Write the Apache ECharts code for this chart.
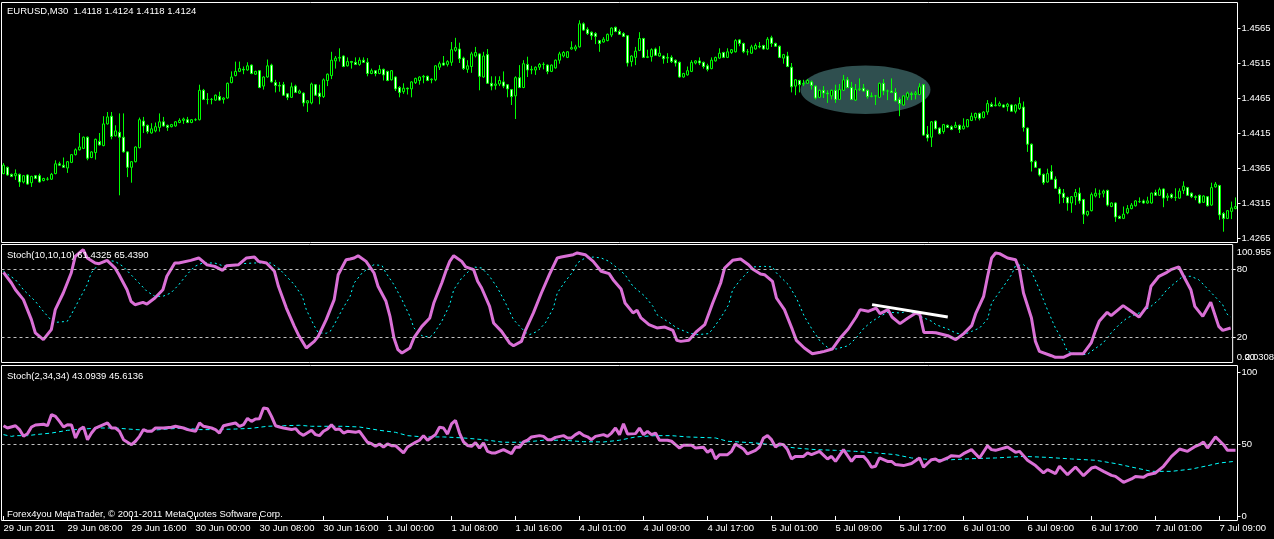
<!DOCTYPE html>
<html><head><meta charset="utf-8">
<script src="https://cdn.jsdelivr.net/npm/echarts@6/dist/echarts.min.js"></script>
<style>html,body{margin:0;padding:0;background:#000;}#c{width:1274px;height:539px;}</style>
</head><body><div id="c"></div>
<script>
// ---- price bars (EURUSD M30) ----
const openP = [
1.4357,1.4366,1.4356,1.4354,1.4356,1.4345,1.4355,1.4344,1.4354,1.4354,
1.4347,1.4349,1.4349,1.4357,1.4371,1.4369,1.4365,1.4373,1.4384,1.4391,
1.4393,1.4409,1.4380,1.4387,1.4403,1.4397,1.4428,1.4439,1.4411,1.4416,
1.4409,1.4388,1.4366,1.4374,1.4394,1.4432,1.4426,1.4415,1.4418,1.4423,
1.4431,1.4426,1.4424,1.4425,1.4430,1.4433,1.4434,1.4430,1.4434,1.4434,
1.4476,1.4463,1.4463,1.4462,1.4467,1.4463,1.4465,1.4487,1.4497,1.4503,
1.4506,1.4505,1.4512,1.4499,1.4504,1.4482,1.4495,1.4512,1.4487,1.4483,
1.4484,1.4471,1.4466,1.4482,1.4472,1.4472,1.4458,1.4458,1.4484,1.4472,
1.4467,1.4490,1.4497,1.4518,1.4522,1.4525,1.4511,1.4517,1.4516,1.4513,
1.4519,1.4516,1.4500,1.4504,1.4500,1.4506,1.4503,1.4491,1.4495,1.4480,
1.4474,1.4479,1.4478,1.4487,1.4490,1.4495,1.4496,1.4491,1.4491,1.4509,
1.4515,1.4513,1.4516,1.4533,1.4535,1.4522,1.4506,1.4510,1.4525,1.4528,
1.4495,1.4527,1.4486,1.4483,1.4485,1.4488,1.4484,1.4477,1.4468,1.4494,
1.4480,1.4513,1.4505,1.4505,1.4509,1.4513,1.4512,1.4503,1.4508,1.4519,
1.4525,1.4523,1.4535,1.4535,1.4538,1.4571,1.4563,1.4559,1.4557,1.4547,
1.4545,1.4547,1.4555,1.4566,1.4560,1.4557,1.4554,1.4517,1.4523,1.4533,
1.4550,1.4523,1.4524,1.4535,1.4525,1.4525,1.4522,1.4523,1.4519,1.4516,
1.4495,1.4498,1.4503,1.4515,1.4518,1.4516,1.4511,1.4507,1.4518,1.4522,
1.4530,1.4523,1.4530,1.4531,1.4548,1.4543,1.4531,1.4529,1.4535,1.4539,
1.4540,1.4535,1.4551,1.4543,1.4539,1.4522,1.4525,1.4509,1.4482,1.4490,
1.4485,1.4486,1.4488,1.4482,1.4466,1.4476,1.4472,1.4468,1.4476,1.4463,
1.4476,1.4491,1.4480,1.4462,1.4477,1.4479,1.4476,1.4467,1.4468,1.4466,
1.4486,1.4475,1.4475,1.4473,1.4463,1.4455,1.4466,1.4471,1.4470,1.4470,
1.4484,1.4413,1.4409,1.4432,1.4422,1.4417,1.4426,1.4424,1.4423,1.4426,
1.4421,1.4424,1.4433,1.4437,1.4443,1.4437,1.4445,1.4456,1.4454,1.4454,
1.4455,1.4453,1.4455,1.4446,1.4450,1.4452,1.4422,1.4399,1.4374,1.4364,
1.4356,1.4345,1.4360,1.4349,1.4335,1.4329,1.4323,1.4315,1.4324,1.4329,
1.4320,1.4298,1.4304,1.4325,1.4328,1.4329,1.4333,1.4310,1.4315,1.4296,
1.4293,1.4301,1.4307,1.4311,1.4317,1.4318,1.4315,1.4315,1.4330,1.4326,
1.4335,1.4323,1.4327,1.4323,1.4322,1.4333,1.4337,1.4329,1.4324,1.4326,
1.4316,1.4324,1.4312,1.4338,1.4340,1.4300,1.4293,1.4303,1.4307];
const highP = [
1.4372,1.4367,1.4357,1.4363,1.4357,1.4355,1.4356,1.4354,1.4355,1.4357,
1.4351,1.4352,1.4358,1.4376,1.4374,1.4380,1.4375,1.4385,1.4393,1.4415,
1.4410,1.4410,1.4389,1.4407,1.4415,1.4439,1.4445,1.4445,1.4426,1.4443,
1.4443,1.4389,1.4375,1.4396,1.4437,1.4438,1.4427,1.4429,1.4430,1.4443,
1.4438,1.4427,1.4428,1.4432,1.4436,1.4437,1.4438,1.4435,1.4436,1.4484,
1.4478,1.4472,1.4465,1.4470,1.4474,1.4466,1.4487,1.4503,1.4517,1.4517,
1.4510,1.4516,1.4513,1.4504,1.4505,1.4496,1.4520,1.4514,1.4491,1.4488,
1.4488,1.4472,1.4487,1.4484,1.4477,1.4473,1.4462,1.4487,1.4485,1.4484,
1.4493,1.4500,1.4531,1.4525,1.4536,1.4526,1.4523,1.4518,1.4523,1.4523,
1.4523,1.4522,1.4507,1.4505,1.4512,1.4507,1.4504,1.4505,1.4496,1.4482,
1.4486,1.4480,1.4489,1.4494,1.4496,1.4498,1.4497,1.4493,1.4512,1.4517,
1.4525,1.4519,1.4545,1.4551,1.4544,1.4524,1.4519,1.4531,1.4538,1.4529,
1.4531,1.4535,1.4496,1.4496,1.4496,1.4503,1.4485,1.4478,1.4496,1.4512,
1.4519,1.4524,1.4511,1.4510,1.4515,1.4516,1.4513,1.4513,1.4520,1.4531,
1.4532,1.4532,1.4546,1.4541,1.4576,1.4573,1.4566,1.4560,1.4559,1.4548,
1.4552,1.4557,1.4566,1.4567,1.4563,1.4559,1.4555,1.4526,1.4538,1.4559,
1.4551,1.4534,1.4536,1.4537,1.4539,1.4526,1.4529,1.4526,1.4520,1.4517,
1.4501,1.4510,1.4519,1.4519,1.4523,1.4517,1.4514,1.4523,1.4524,1.4536,
1.4531,1.4536,1.4535,1.4549,1.4549,1.4544,1.4535,1.4541,1.4543,1.4545,
1.4541,1.4552,1.4554,1.4544,1.4540,1.4528,1.4531,1.4515,1.4492,1.4491,
1.4491,1.4492,1.4490,1.4483,1.4477,1.4482,1.4476,1.4477,1.4484,1.4485,
1.4498,1.4495,1.4488,1.4485,1.4493,1.4485,1.4477,1.4473,1.4469,1.4487,
1.4492,1.4477,1.4493,1.4479,1.4466,1.4469,1.4474,1.4474,1.4475,1.4486,
1.4485,1.4425,1.4432,1.4433,1.4423,1.4428,1.4427,1.4426,1.4431,1.4427,
1.4436,1.4435,1.4444,1.4444,1.4444,1.4446,1.4462,1.4459,1.4466,1.4460,
1.4456,1.4458,1.4456,1.4456,1.4466,1.4460,1.4423,1.4400,1.4376,1.4365,
1.4357,1.4364,1.4369,1.4353,1.4338,1.4335,1.4324,1.4325,1.4335,1.4337,
1.4321,1.4304,1.4330,1.4336,1.4334,1.4334,1.4334,1.4316,1.4316,1.4297,
1.4310,1.4312,1.4315,1.4319,1.4323,1.4320,1.4324,1.4330,1.4334,1.4337,
1.4336,1.4329,1.4329,1.4336,1.4336,1.4346,1.4338,1.4330,1.4326,1.4327,
1.4326,1.4325,1.4344,1.4345,1.4341,1.4302,1.4305,1.4317,1.4323];
const lowP = [
1.4356,1.4354,1.4352,1.4348,1.4338,1.4343,1.4341,1.4338,1.4349,1.4344,
1.4346,1.4347,1.4348,1.4356,1.4368,1.4365,1.4358,1.4372,1.4383,1.4390,
1.4392,1.4376,1.4379,1.4377,1.4397,1.4396,1.4427,1.4406,1.4410,1.4326,
1.4387,1.4352,1.4344,1.4373,1.4393,1.4415,1.4414,1.4414,1.4416,1.4417,
1.4424,1.4418,1.4423,1.4424,1.4429,1.4428,1.4429,1.4429,1.4432,1.4433,
1.4462,1.4456,1.4456,1.4461,1.4461,1.4457,1.4464,1.4486,1.4496,1.4502,
1.4499,1.4504,1.4499,1.4498,1.4479,1.4477,1.4494,1.4487,1.4473,1.4474,
1.4468,1.4462,1.4465,1.4472,1.4471,1.4453,1.4445,1.4456,1.4468,1.4456,
1.4465,1.4482,1.4492,1.4507,1.4517,1.4509,1.4510,1.4507,1.4512,1.4511,
1.4515,1.4496,1.4499,1.4496,1.4499,1.4490,1.4489,1.4490,1.4475,1.4466,
1.4471,1.4470,1.4466,1.4485,1.4484,1.4486,1.4489,1.4486,1.4489,1.4505,
1.4511,1.4510,1.4511,1.4531,1.4515,1.4505,1.4501,1.4501,1.4523,1.4476,
1.4494,1.4485,1.4476,1.4477,1.4482,1.4479,1.4466,1.4455,1.4435,1.4479,
1.4479,1.4495,1.4499,1.4498,1.4505,1.4506,1.4499,1.4502,1.4507,1.4514,
1.4523,1.4522,1.4534,1.4532,1.4537,1.4561,1.4555,1.4548,1.4542,1.4531,
1.4544,1.4546,1.4552,1.4559,1.4555,1.4552,1.4510,1.4510,1.4512,1.4532,
1.4522,1.4522,1.4517,1.4525,1.4524,1.4514,1.4515,1.4515,1.4510,1.4494,
1.4494,1.4497,1.4502,1.4513,1.4512,1.4507,1.4503,1.4506,1.4517,1.4521,
1.4522,1.4522,1.4528,1.4530,1.4539,1.4529,1.4526,1.4528,1.4534,1.4536,
1.4534,1.4534,1.4538,1.4538,1.4522,1.4514,1.4509,1.4473,1.4469,1.4473,
1.4482,1.4485,1.4477,1.4463,1.4465,1.4465,1.4458,1.4463,1.4458,1.4462,
1.4475,1.4479,1.4462,1.4461,1.4475,1.4474,1.4464,1.4466,1.4455,1.4465,
1.4469,1.4462,1.4472,1.4460,1.4439,1.4454,1.4462,1.4462,1.4463,1.4469,
1.4411,1.4403,1.4395,1.4420,1.4413,1.4414,1.4422,1.4419,1.4422,1.4415,
1.4420,1.4423,1.4432,1.4433,1.4433,1.4436,1.4441,1.4452,1.4453,1.4453,
1.4451,1.4446,1.4445,1.4443,1.4448,1.4417,1.4388,1.4360,1.4365,1.4353,
1.4341,1.4344,1.4348,1.4335,1.4314,1.4315,1.4304,1.4301,1.4312,1.4314,
1.4285,1.4296,1.4303,1.4323,1.4322,1.4323,1.4310,1.4309,1.4288,1.4292,
1.4292,1.4299,1.4306,1.4310,1.4315,1.4314,1.4314,1.4314,1.4325,1.4325,
1.4309,1.4318,1.4321,1.4318,1.4321,1.4328,1.4325,1.4322,1.4319,1.4314,
1.4315,1.4310,1.4311,1.4337,1.4291,1.4274,1.4292,1.4292,1.4306];
const closeP = [
1.4369,1.4355,1.4353,1.4357,1.4345,1.4354,1.4342,1.4353,1.4350,1.4345,
1.4350,1.4349,1.4356,1.4371,1.4369,1.4366,1.4374,1.4384,1.4391,1.4395,
1.4409,1.4379,1.4388,1.4406,1.4398,1.4428,1.4438,1.4410,1.4418,1.4409,
1.4388,1.4366,1.4374,1.4395,1.4434,1.4425,1.4417,1.4421,1.4424,1.4431,
1.4425,1.4423,1.4427,1.4431,1.4433,1.4435,1.4430,1.4434,1.4434,1.4476,
1.4463,1.4463,1.4463,1.4469,1.4462,1.4465,1.4486,1.4495,1.4503,1.4507,
1.4505,1.4511,1.4500,1.4503,1.4480,1.4495,1.4511,1.4488,1.4483,1.4482,
1.4469,1.4466,1.4481,1.4473,1.4475,1.4458,1.4461,1.4485,1.4469,1.4467,
1.4491,1.4499,1.4519,1.4522,1.4523,1.4510,1.4517,1.4516,1.4513,1.4519,
1.4516,1.4500,1.4504,1.4500,1.4506,1.4498,1.4490,1.4504,1.4478,1.4473,
1.4479,1.4478,1.4488,1.4493,1.4495,1.4496,1.4490,1.4492,1.4511,1.4514,
1.4512,1.4517,1.4534,1.4537,1.4521,1.4507,1.4511,1.4528,1.4530,1.4496,
1.4525,1.4486,1.4482,1.4485,1.4490,1.4482,1.4478,1.4467,1.4494,1.4480,
1.4514,1.4505,1.4506,1.4509,1.4513,1.4513,1.4503,1.4512,1.4519,1.4528,
1.4530,1.4531,1.4537,1.4538,1.4571,1.4562,1.4557,1.4554,1.4553,1.4543,
1.4549,1.4556,1.4565,1.4560,1.4556,1.4553,1.4515,1.4525,1.4532,1.4550,
1.4523,1.4524,1.4534,1.4526,1.4529,1.4521,1.4523,1.4517,1.4515,1.4495,
1.4500,1.4504,1.4516,1.4518,1.4515,1.4510,1.4506,1.4519,1.4523,1.4529,
1.4523,1.4531,1.4534,1.4547,1.4543,1.4531,1.4531,1.4538,1.4540,1.4538,
1.4535,1.4549,1.4543,1.4539,1.4523,1.4527,1.4510,1.4481,1.4491,1.4484,
1.4486,1.4490,1.4483,1.4465,1.4476,1.4472,1.4471,1.4476,1.4463,1.4477,
1.4491,1.4480,1.4463,1.4477,1.4478,1.4475,1.4467,1.4468,1.4468,1.4486,
1.4475,1.4475,1.4473,1.4461,1.4457,1.4468,1.4472,1.4470,1.4472,1.4481,
1.4412,1.4408,1.4431,1.4421,1.4414,1.4427,1.4423,1.4420,1.4426,1.4420,
1.4425,1.4434,1.4439,1.4443,1.4436,1.4445,1.4457,1.4453,1.4455,1.4457,
1.4452,1.4456,1.4446,1.4455,1.4457,1.4423,1.4399,1.4374,1.4366,1.4355,
1.4344,1.4357,1.4349,1.4336,1.4328,1.4323,1.4315,1.4324,1.4330,1.4318,
1.4299,1.4303,1.4327,1.4329,1.4328,1.4332,1.4312,1.4315,1.4295,1.4293,
1.4299,1.4307,1.4312,1.4318,1.4317,1.4315,1.4318,1.4329,1.4326,1.4334,
1.4322,1.4325,1.4323,1.4323,1.4332,1.4339,1.4326,1.4324,1.4323,1.4315,
1.4325,1.4311,1.4337,1.4342,1.4298,1.4293,1.4304,1.4308,1.4310];

// ---- time axis ticks (every 16 bars) ----
const tickIndex = [0,16,32,48,64,80,96,112,128,144,160,176,192,208,224,240,256,272,288,304];
const tickLabels = ['29 Jun 2011','29 Jun 08:00','29 Jun 16:00','30 Jun 00:00','30 Jun 08:00','30 Jun 16:00',
  '1 Jul 00:00','1 Jul 08:00','1 Jul 16:00','4 Jul 01:00','4 Jul 09:00','4 Jul 17:00','5 Jul 01:00',
  '5 Jul 09:00','5 Jul 17:00','6 Jul 01:00','6 Jul 09:00','6 Jul 17:00','7 Jul 01:00','7 Jul 09:00'];
const priceTicks = [1.4265,1.4315,1.4365,1.4415,1.4465,1.4515,1.4565];

// ---- Stoch(10,10,10): [bar, value] ----
const stoch1Main = [[0,77.1],[2,67.7],[3,61.8],[5,53.1],[7,35.5],[8,23.8],[10,17.9],[12,26.7],[13,44.3],[15,58.9],
[17,76.5],[18,91.1],[20,97.0],[21,89.7],[23,85.3],[24,84.7],[26,87.6],[28,80.9],[29,75.0],[31,61.8],[32,51.6],[33,48.6],
[35,50.7],[36,49.2],[38,54.5],[40,61.8],[41,73.6],[43,85.3],[44,85.3],[47,87.6],[49,89.7],[51,83.8],[53,82.3],[55,78.8],
[56,82.9],[59,83.8],[61,89.7],[63,90.5],[64,86.7],[66,85.3],[68,78.0],[69,64.8],[71,45.7],[73,29.6],[74,22.3],[76,10.6],
[78,16.4],[79,20.8],[81,35.5],[83,53.1],[84,75.0],[86,88.2],[87,88.8],[88,89.7],[89,91.7],[91,86.7],[93,76.5],[94,64.8],
[96,51.6],[97,38.4],[98,19.4],[99,9.1],[100,6.2],[102,10.6],[103,19.4],[105,29.6],[107,37.0],[108,50.1],[110,67.7],
[111,77.9],[112,86.7],[113,91.7],[115,86.7],[116,81.8],[118,79.4],[119,69.2],[120,63.3],[122,47.2],[123,32.6],[125,25.2],
[127,15.0],[128,12.6],[130,16.4],[131,26.1],[133,41.4],[135,58.9],[137,75.0],[139,89.7],[140,90.5],[143,92.6],[144,94.1],
[146,92.6],[148,86.7],[150,78.0],[152,75.9],[153,70.6],[155,62.5],[156,50.1],[158,41.4],[159,43.7],[160,37.0],[162,31.1],
[164,28.2],[166,29.0],[168,26.1],[169,17.3],[170,16.4],[172,17.3],[174,25.2],[176,31.1],[178,50.1],[180,67.7],[181,80.9],
[183,87.6],[185,88.8],[187,83.8],[188,80.0],[190,75.6],[191,75.0],[193,69.2],[194,54.5],[196,44.3],[198,26.7],[199,17.3],
[201,10.6],[203,5.6],[205,6.8],[206,7.6],[208,9.7],[210,19.4],[212,27.3],[214,37.8],[215,44.3],[217,42.8],[219,45.7],
[220,40.8],[222,44.3],[223,37.8],[225,32.0],[227,37.0],[229,41.4],[230,39.9],[231,24.3],[233,24.3],[234,24.0],[237,21.4],
[239,17.9],[241,23.2],[243,30.2],[244,40.7],[246,56.0],[247,73.6],[248,89.7],[249,94.1],[250,93.5],[252,89.7],[254,88.2],
[255,79.4],[256,58.9],[258,37.0],[259,16.4],[260,7.6],[263,3.8],[264,2.4],[266,2.4],[268,5.6],[271,5.6],[273,15.0],
[274,25.2],[275,34.0],[277,41.9],[278,39.0],[281,47.8],[283,42.8],[285,37.8],[287,47.2],[288,64.8],[290,73.6],[292,77.1],
[293,79.4],[295,81.8],[296,75.0],[298,61.8],[299,47.2],[301,38.4],[303,50.7],[305,29.6],[306,26.1],[308,28.2]];
const stoch1Signal = [[0,78.0],[3,70.6],[5,61.8],[8,51.6],[10,42.8],[12,34.9],[13,33.1],[16,34.0],[17,39.9],[19,53.1],
[21,66.2],[22,76.5],[24,84.7],[26,87.6],[28,86.7],[30,82.3],[32,75.0],[34,67.7],[36,60.4],[38,56.0],[40,56.0],[42,58.9],
[44,66.2],[46,75.0],[48,82.3],[50,85.3],[53,85.3],[55,82.9],[58,82.9],[60,84.7],[63,85.3],[65,85.3],[67,85.3],[69,80.9],
[71,73.6],[73,66.2],[75,56.0],[76,44.3],[78,30.0],[79,24.0],[81,23.5],[82,25.2],[83,31.1],[85,44.3],[87,56.0],[88,67.7],
[90,76.5],[92,81.8],[93,83.8],[95,83.0],[96,76.5],[98,66.2],[100,53.1],[102,38.4],[103,28.2],[105,21.4],[107,20.0],
[108,23.2],[110,34.0],[112,48.6],[113,61.8],[115,72.1],[117,78.8],[118,81.8],[120,80.9],[122,73.6],[124,63.3],[126,50.1],
[128,35.5],[131,24.3],[132,22.3],[134,25.2],[136,32.6],[138,45.7],[139,58.9],[141,69.2],[143,78.0],[144,85.3],[146,89.7],
[148,90.5],[150,89.7],[152,86.7],[154,81.0],[156,75.0],[158,64.8],[161,56.0],[163,47.2],[164,39.9],[167,33.1],[169,28.2],
[172,23.8],[174,22.3],[177,23.2],[178,27.3],[180,37.0],[182,48.6],[183,61.8],[185,70.6],[187,78.0],[188,81.8],[191,82.3],
[193,81.8],[194,76.5],[197,66.2],[199,54.5],[201,38.4],[203,26.7],[205,16.4],[207,10.6],[209,9.7],[212,12.6],[214,19.4],
[216,28.2],[218,34.0],[220,38.4],[222,42.0],[225,41.4],[227,42.8],[229,40.7],[231,37.0],[233,34.0],[234,31.1],[237,27.3],
[239,23.8],[241,22.3],[243,25.2],[245,28.2],[247,36.1],[248,50.1],[251,64.8],[253,75.0],[254,82.9],[256,83.8],[258,78.0],
[260,61.8],[262,44.3],[264,28.2],[266,16.4],[267,7.6],[269,5.6],[272,4.7],[273,7.6],[276,15.0],[278,23.8],[280,31.1],
[282,37.0],[284,39.9],[286,42.8],[288,47.2],[290,53.1],[292,61.8],[294,67.7],[296,73.6],[298,73.6],[300,70.6],[302,63.3],
[304,56.0],[306,48.6],[307,40.7],[308,37.8]];

// ---- Stoch(2,34,34): [bar, value] ----
const stoch2Main = [[0,62.7],[1,61.1],[3,62.7],[4,60.0],[5,55.3],[6,57.2],[7,61.8],[8,63.2],[10,63.7],[11,62.7],[12,70.4],
[13,69.2],[14,65.7],[15,61.8],[16,63.4],[17,63.2],[18,54.2],[19,60.0],[20,61.8],[21,53.0],[22,57.6],[23,61.1],[24,62.3],
[26,64.6],[27,61.1],[28,61.1],[29,58.8],[30,53.0],[32,49.5],[33,51.9],[34,55.3],[35,60.0],[36,58.8],[37,58.8],[38,61.1],
[40,61.1],[42,61.6],[43,62.3],[45,61.1],[46,60.0],[48,58.8],[49,64.6],[50,62.3],[52,61.1],[53,60.0],[54,57.6],[55,62.7],
[56,63.4],[58,64.6],[59,62.3],[60,63.4],[61,67.8],[62,65.7],[63,67.4],[64,67.6],[65,75.0],[66,74.5],[67,69.2],[68,62.7],
[69,61.8],[70,61.1],[72,60.0],[73,60.7],[74,57.6],[75,56.0],[77,59.5],[78,56.5],[79,55.8],[80,58.8],[81,60.4],[82,63.4],
[83,60.0],[84,60.4],[85,57.6],[86,58.8],[88,58.1],[89,58.8],[91,51.2],[92,50.2],[93,48.4],[94,50.0],[95,47.9],[96,50.0],
[97,48.8],[98,48.8],[100,43.8],[101,47.9],[103,51.2],[104,52.6],[105,55.8],[106,52.6],[108,56.5],[109,61.6],[110,61.1],
[111,56.9],[112,63.9],[113,66.4],[114,57.6],[115,51.5],[116,49.0],[117,48.4],[118,51.0],[119,47.2],[120,50.7],[121,44.9],
[122,43.8],[123,43.8],[125,46.1],[127,43.3],[128,47.9],[129,47.7],[130,51.4],[131,52.6],[132,54.9],[134,55.8],[135,55.3],
[136,53.0],[137,53.0],[138,54.6],[140,55.8],[141,54.2],[142,54.2],[143,56.5],[144,58.1],[145,56.0],[146,55.0],[147,53.0],
[148,55.3],[150,56.5],[151,55.3],[152,57.6],[153,61.1],[154,56.5],[155,64.0],[156,57.0],[158,57.2],[159,61.1],[160,56.5],
[161,58.8],[162,56.5],[163,57.6],[164,52.6],[166,52.6],[167,51.9],[168,49.5],[169,47.2],[170,49.1],[172,49.1],[173,47.2],
[175,47.7],[176,44.2],[177,46.1],[178,39.6],[179,42.6],[181,42.6],[182,44.9],[183,50.0],[185,46.5],[186,43.1],[188,45.6],
[189,47.9],[190,54.2],[191,55.8],[192,53.0],[193,47.9],[194,50.0],[195,49.5],[196,46.1],[197,39.6],[198,41.4],[200,41.4],
[201,43.8],[202,42.6],[204,44.9],[206,39.6],[207,41.4],[208,37.9],[210,46.1],[212,37.9],[213,41.4],[215,41.4],[216,38.4],
[217,33.8],[218,34.5],[219,40.3],[221,37.9],[222,37.9],[223,35.7],[225,35.0],[227,36.4],[229,40.3],[230,34.0],[232,39.1],
[233,39.6],[234,37.9],[236,40.3],[237,41.9],[239,41.4],[240,43.3],[242,46.1],[244,40.3],[246,48.8],[247,46.1],[248,45.6],
[251,47.9],[253,44.2],[254,44.9],[256,38.7],[258,35.0],[260,29.9],[261,32.2],[263,29.4],[264,34.5],[266,28.7],[268,34.0],
[270,28.0],[272,33.3],[273,34.0],[275,31.0],[277,28.2],[278,27.5],[280,23.4],[282,25.7],[283,27.5],[285,26.9],[286,28.7],
[288,29.9],[290,34.5],[292,41.4],[294,46.5],[296,44.9],[298,48.4],[299,49.5],[300,51.4],[301,47.2],[303,54.9],[305,49.5],
[306,45.6],[308,45.6]];
const stoch2Signal = [[0,56.5],[2,55.3],[3,55.8],[6,55.8],[8,56.5],[12,57.6],[16,59.5],[20,60.4],[24,61.1],[28,61.1],
[33,60.0],[37,59.5],[41,60.4],[45,61.1],[49,60.0],[53,60.0],[58,60.4],[62,60.9],[66,62.3],[70,62.7],[74,63.0],[77,62.3],
[85,62.3],[89,61.8],[94,59.5],[98,58.1],[101,55.8],[105,54.9],[110,54.9],[115,54.2],[120,53.0],[125,51.2],[130,51.2],
[135,52.6],[140,52.6],[145,51.6],[150,51.4],[154,52.6],[158,54.9],[163,55.8],[167,55.8],[171,54.9],[178,54.2],[181,51.9],
[188,50.7],[193,49.1],[198,47.2],[203,46.1],[208,45.6],[213,44.9],[218,43.8],[223,42.6],[227,40.3],[232,39.1],[237,39.1],
[242,39.8],[248,40.3],[255,41.4],[261,40.7],[267,39.6],[273,38.7],[278,36.4],[282,34.0],[287,31.0],[292,31.0],[297,32.6],
[301,34.9],[304,36.8],[308,38.0]];

const stoch1Levels = [80, 20];
const stoch2Levels = [50];
const stoch1LabelValues = [94.9, 80, 20, 2.4];
const stoch1LabelTexts = ['100.955', '80', '20', '0.00'];
const stoch1ExtraLabel = '2.0308';
const stoch2LabelValues = [100, 50, 0];
const trendLine = [[218, 48.7], [237, 37.8]];
const ellipseCenter = [215.5, 1.44767];   // bar, price
const ellipseHalf = [16.25, 0.00346];     // bars, price

const titleMain = 'EURUSD,M30  1.4118 1.4124 1.4118 1.4124';
const titleStoch1 = 'Stoch(10,10,10) 61.4325 65.4390';
const titleStoch2 = 'Stoch(2,34,34) 43.0939 45.6136';
const footer = 'Forex4you MetaTrader, \u00a9 2001-2011 MetaQuotes Software Corp.';

// ---- chart ----
const FONT = 'Liberation Sans';
const FS = 9.5;
const categories = openP.map((_, i) => String(i));
const candles = openP.map((o, i) => [o, closeP[i], lowP[i], highP[i]]);
const chart = echarts.init(document.getElementById('c'), null, {renderer: 'canvas'});

const gridBase = {left: 1.5, width: 1236, show: true, borderColor: '#ffffff', borderWidth: 1, backgroundColor: '#000'};
function xAx(gi, visible) {
  return {
    type: 'category', gridIndex: gi, data: categories, boundaryGap: true, show: visible,
    axisLine: {show: false}, splitLine: {show: false},
    axisTick: {show: visible, interval: 15, alignWithLabel: true, length: 4, lineStyle: {color: '#fff'}},
    axisLabel: {show: visible, interval: 15, align: 'left', margin: 3, color: '#fff', fontFamily: FONT, fontSize: FS,
      formatter: (v) => { const k = tickIndex.indexOf(Number(v)); return k >= 0 ? tickLabels[k] : ''; }}
  };
}
function yAx(gi, min, max, labelVals, fmt, tickVals) {
  return {
    type: 'value', gridIndex: gi, position: 'right', min: min, max: max, scale: true,
    axisLine: {show: false}, splitLine: {show: false},
    axisTick: {show: true, length: 3, customValues: tickVals, lineStyle: {color: '#fff'}},
    axisLabel: {show: true, customValues: labelVals, margin: 4, color: '#fff', fontFamily: FONT, fontSize: FS, formatter: fmt}
  };
}
function levelLine(levels) {
  return {silent: true, symbol: 'none', label: {show: false},
    lineStyle: {color: '#c0c0c0', width: 1, type: [3, 3]}, data: levels.map(v => ({yAxis: v}))};
}
const txt = (t, x, y) => ({type: 'text', x: x, y: y, silent: true, z: 100,
  style: {text: t, fill: '#fff', font: FS + 'px "' + FONT + '"', verticalAlign: 'middle'}});

const option = {
  animation: false,
  backgroundColor: '#000',
  grid: [
    Object.assign({top: 2.5, height: 240}, gridBase),
    Object.assign({top: 244.5, height: 118}, gridBase),
    Object.assign({top: 365.5, height: 155}, gridBase)
  ],
  xAxis: [xAx(0, false), xAx(1, false), xAx(2, true)],
  yAxis: [
    yAx(0, 1.425857, 1.460143, priceTicks, v => v.toFixed(4), priceTicks),
    yAx(1, -2.16, 101.53, stoch1LabelValues, v => {
      let k = 0, d = 1e9;
      stoch1LabelValues.forEach((lv, j) => { if (Math.abs(lv - v) < d) { d = Math.abs(lv - v); k = j; } });
      return stoch1LabelTexts[k];
    }, [80, 20]),
    yAx(2, -3.13, 104.51, stoch2LabelValues, v => String(Math.round(v)), stoch2LabelValues)
  ],
  series: [
    {type: 'custom', xAxisIndex: 0, yAxisIndex: 0, z: 1, silent: true, data: [[Math.floor(ellipseCenter[0]), ellipseCenter[1]]],
      renderItem: (params, api) => {
        const b = Math.floor(ellipseCenter[0]);
        const c0 = api.coord([b, ellipseCenter[1]]);
        const c1 = api.coord([b + 1, ellipseCenter[1] + ellipseHalf[1]]);
        const step = c1[0] - c0[0];
        return {type: 'ellipse', shape: {cx: c0[0] + (ellipseCenter[0] - b) * step, cy: c0[1],
          rx: ellipseHalf[0] * step, ry: c0[1] - c1[1]}, style: {fill: '#2f4f4f'}};
      }},
    {type: 'candlestick', xAxisIndex: 0, yAxisIndex: 0, z: 3, data: candles, barWidth: 3,
      itemStyle: {color: '#000000', color0: '#ffffff', borderColor: '#00ff00', borderColor0: '#00ff00',
        borderColorDoji: '#00ff00', borderWidth: 1}},
    {type: 'line', xAxisIndex: 1, yAxisIndex: 1, data: stoch1Signal, showSymbol: false, symbol: 'none', z: 3,
      lineStyle: {color: '#00ffff', width: 1, type: [2, 3]}, markLine: levelLine(stoch1Levels)},
    {type: 'line', xAxisIndex: 1, yAxisIndex: 1, data: stoch1Main, showSymbol: false, symbol: 'none', z: 4,
      lineStyle: {color: '#da70d6', width: 3}},
    {type: 'line', xAxisIndex: 1, yAxisIndex: 1, data: trendLine, showSymbol: false, symbol: 'none', z: 5,
      lineStyle: {color: '#ffffff', width: 3}},
    {type: 'line', xAxisIndex: 2, yAxisIndex: 2, data: stoch2Signal, showSymbol: false, symbol: 'none', z: 3,
      lineStyle: {color: '#00ffff', width: 1, type: [4, 3]}, markLine: levelLine(stoch2Levels)},
    {type: 'line', xAxisIndex: 2, yAxisIndex: 2, data: stoch2Main, showSymbol: false, symbol: 'none', z: 4,
      lineStyle: {color: '#da70d6', width: 3}}
  ],
  graphic: [
    txt(titleMain, 7, 11),
    txt(titleStoch1, 7, 255),
    txt(titleStoch2, 7, 376),
    txt(footer, 7, 514),
    txt(stoch1ExtraLabel, 1245, 357)
  ]
};
chart.setOption(option);
</script></body></html>
